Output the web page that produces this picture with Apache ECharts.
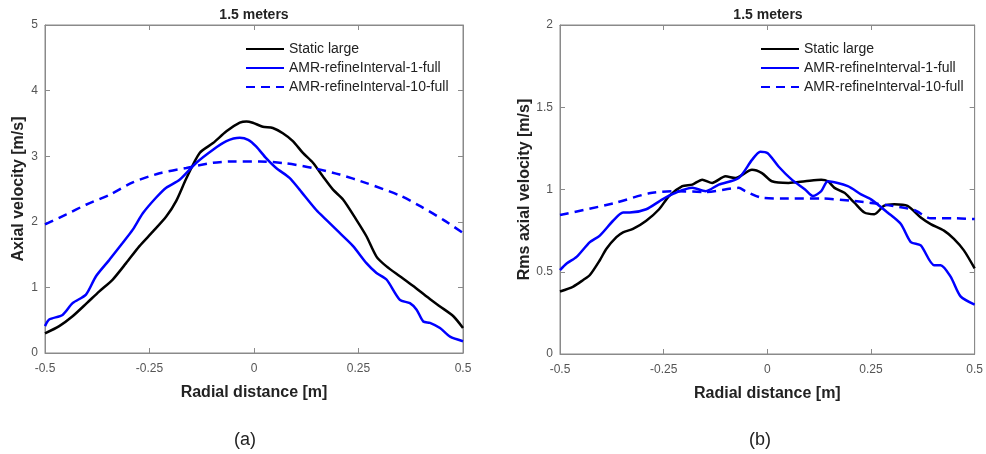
<!DOCTYPE html>
<html><head><meta charset="utf-8">
<script src="https://cdn.jsdelivr.net/npm/echarts@6/dist/echarts.min.js"></script>
<style>html,body{margin:0;padding:0;background:#fff}#c{width:986px;height:454px}</style>
</head><body><div id="c"></div>
<script>
const seriesNames = ['Static large', 'AMR-refineInterval-1-full', 'AMR-refineInterval-10-full'];
const xTicks = [-0.5, -0.25, 0, 0.25, 0.5];

const leftBlackX = [-0.5,-0.466,-0.434,-0.40,-0.37,-0.338,-0.306,-0.274,-0.242,-0.21,-0.186,-0.162,-0.13,-0.098,-0.066,-0.034,-0.018,-0.003,0.021,0.045,0.069,0.093,0.117,0.141,0.165,0.189,0.213,0.245,0.269,0.293,0.317,0.349,0.381,0.413,0.445,0.477,0.5];
const leftBlackY = [0.30,0.41,0.56,0.76,0.94,1.12,1.37,1.63,1.85,2.08,2.32,2.66,3.05,3.20,3.38,3.51,3.53,3.51,3.45,3.43,3.35,3.23,3.05,2.90,2.69,2.49,2.34,2.03,1.78,1.47,1.32,1.17,1.02,0.86,0.71,0.56,0.38];
const leftBlueX = [-0.5,-0.49,-0.458,-0.434,-0.402,-0.378,-0.346,-0.314,-0.29,-0.266,-0.234,-0.21,-0.178,-0.138,-0.098,-0.066,-0.034,-0.014,0.005,0.029,0.053,0.085,0.109,0.149,0.173,0.205,0.237,0.269,0.293,0.317,0.349,0.373,0.389,0.405,0.421,0.445,0.469,0.5];
const leftBlueY = [0.41,0.51,0.58,0.76,0.89,1.17,1.42,1.68,1.88,2.13,2.37,2.52,2.64,2.90,3.10,3.23,3.28,3.25,3.15,2.97,2.82,2.67,2.49,2.18,2.03,1.83,1.63,1.37,1.22,1.12,0.81,0.76,0.66,0.48,0.46,0.38,0.25,0.18];
const leftDashX = [-0.5,-0.45,-0.402,-0.346,-0.29,-0.226,-0.162,-0.098,-0.05,0.014,0.077,0.141,0.205,0.269,0.349,0.40,0.453,0.5];
const leftDashY = [1.96,2.11,2.26,2.41,2.60,2.74,2.82,2.90,2.92,2.92,2.89,2.82,2.72,2.59,2.40,2.23,2.03,1.83];

const rightBlackX = [-0.5,-0.468,-0.444,-0.428,-0.404,-0.388,-0.364,-0.348,-0.324,-0.292,-0.261,-0.237,-0.205,-0.181,-0.157,-0.133,-0.101,-0.077,-0.037,-0.013,0.011,0.051,0.091,0.130,0.146,0.162,0.186,0.202,0.210,0.234,0.258,0.281,0.306,0.338,0.370,0.394,0.426,0.450,0.474,0.5];
const rightBlackY = [0.38,0.41,0.45,0.48,0.57,0.64,0.71,0.74,0.76,0.81,0.88,0.96,1.02,1.03,1.06,1.04,1.08,1.07,1.12,1.10,1.05,1.04,1.05,1.06,1.05,1.01,0.98,0.94,0.92,0.86,0.85,0.90,0.91,0.90,0.83,0.79,0.75,0.70,0.63,0.52];
const rightBlueX = [-0.5,-0.484,-0.46,-0.428,-0.404,-0.372,-0.348,-0.332,-0.292,-0.253,-0.221,-0.181,-0.149,-0.117,-0.069,-0.037,-0.017,0.001,0.027,0.059,0.091,0.110,0.130,0.146,0.194,0.226,0.250,0.290,0.322,0.346,0.370,0.402,0.418,0.442,0.466,0.5];
const rightBlueY = [0.51,0.55,0.59,0.68,0.72,0.81,0.86,0.86,0.88,0.94,0.98,1.01,0.99,1.03,1.07,1.18,1.23,1.22,1.14,1.06,1.00,0.96,0.99,1.05,1.02,0.97,0.94,0.86,0.79,0.68,0.66,0.54,0.54,0.47,0.35,0.30];
const rightDashX = [-0.5,-0.372,-0.285,-0.221,-0.149,-0.069,-0.053,-0.013,0.051,0.130,0.210,0.290,0.354,0.394,0.45,0.5];
const rightDashY = [0.845,0.915,0.977,0.99,0.985,1.01,0.99,0.95,0.945,0.945,0.93,0.905,0.875,0.825,0.825,0.82];

const pairs = (xs, ys) => xs.map((x, i) => [x, ys[i]]);
const FONT = '"Liberation Sans", Arial, sans-serif';
const AX = '#8a8a8a';
const LBL = '#555';

function xAxes(gi) {
  return [
    { type:'value', gridIndex:gi, min:-0.5, max:0.5, interval:0.25, position:'bottom',
      name:'Radial distance [m]', nameLocation:'middle', nameGap:32,
      nameTextStyle:{fontFamily:FONT, fontWeight:'bold', fontSize:16, color:'#222'},
      axisLine:{onZero:false, lineStyle:{color:AX, width:1}}, axisTick:{inside:true, length:5, lineStyle:{color:AX}},
      axisLabel:{color:LBL, fontFamily:FONT, fontSize:12, margin:10}, splitLine:{show:false} },
    { type:'value', gridIndex:gi, min:-0.5, max:0.5, interval:0.25, position:'top',
      axisLine:{onZero:false, lineStyle:{color:AX, width:1}}, axisTick:{inside:true, length:5, lineStyle:{color:AX}},
      axisLabel:{show:false}, splitLine:{show:false} }
  ];
}
function yAxes(gi, max, interval, name, gap) {
  return [
    { type:'value', gridIndex:gi, min:0, max:max, interval:interval, position:'left',
      name:name, nameLocation:'middle', nameGap:gap,
      nameTextStyle:{fontFamily:FONT, fontWeight:'bold', fontSize:16, color:'#222'},
      axisLine:{show:true, onZero:false, lineStyle:{color:AX, width:1}}, axisTick:{show:true, inside:true, length:5, lineStyle:{color:AX}},
      axisLabel:{color:LBL, fontFamily:FONT, fontSize:12, margin:7}, splitLine:{show:false} },
    { type:'value', gridIndex:gi, min:0, max:max, interval:interval, position:'right',
      axisLine:{show:true, onZero:false, lineStyle:{color:AX, width:1}}, axisTick:{show:true, inside:true, length:5, lineStyle:{color:AX}},
      axisLabel:{show:false}, splitLine:{show:false} }
  ];
}
function mk(name, xi, yi, data, color, dashed) {
  return { name:name, type:'line', xAxisIndex:xi, yAxisIndex:yi, data:data, symbol:'none', smooth:0.25,
    lineStyle:{color:color, width:2.5, type: dashed ? [9,6] : 'solid'}, itemStyle:{color:color} };
}
function legend(left) {
  return {orient:'vertical', left:left, top:37, itemWidth:38, itemHeight:14, itemGap:5, data:seriesNames,
    itemStyle:{opacity:0}, textStyle:{fontFamily:FONT, fontSize:14, color:'#222'}, selectedMode:false};
}
function label(x, y, text, size, weight) {
  return {type:'text', x:x, y:y, style:{text:text, fill:'#222', font: weight + ' ' + size + 'px ' + FONT,
    textAlign:'center', textVerticalAlign:'middle'}};
}
const chart = echarts.init(document.getElementById('c'));
chart.setOption({
  animation:false,
  backgroundColor:'#fff',
  graphic:[
    label(254, 15, '1.5 meters', 14, 'bold'),
    label(768, 15, '1.5 meters', 14, 'bold'),
    label(245, 440, '(a)', 18, 'normal'),
    label(760, 440, '(b)', 18, 'normal')
  ],
  legend:[legend(240), legend(755)],
  grid:[
    {left:45, top:25, width:418, height:328, show:true, borderColor:AX, borderWidth:1, backgroundColor:'transparent'},
    {left:560, top:25, width:418, height:329, show:true, borderColor:AX, borderWidth:1, backgroundColor:'transparent'}
  ],
  xAxis:[...xAxes(0), ...xAxes(1)],
  yAxis:[...yAxes(0, 5, 1, 'Axial velocity [m/s]', 18), ...yAxes(1, 2, 0.5, 'Rms axial velocity [m/s]', 27)],
  series:[
    mk(seriesNames[0], 0, 0, pairs(leftBlackX, leftBlackY), '#000', false),
    mk(seriesNames[1], 0, 0, pairs(leftBlueX, leftBlueY), '#0000ff', false),
    mk(seriesNames[2], 0, 0, pairs(leftDashX, leftDashY), '#0000ff', true),
    mk(seriesNames[0], 2, 2, pairs(rightBlackX, rightBlackY), '#000', false),
    mk(seriesNames[1], 2, 2, pairs(rightBlueX, rightBlueY), '#0000ff', false),
    mk(seriesNames[2], 2, 2, pairs(rightDashX, rightDashY), '#0000ff', true)
  ]
});
</script></body></html>
